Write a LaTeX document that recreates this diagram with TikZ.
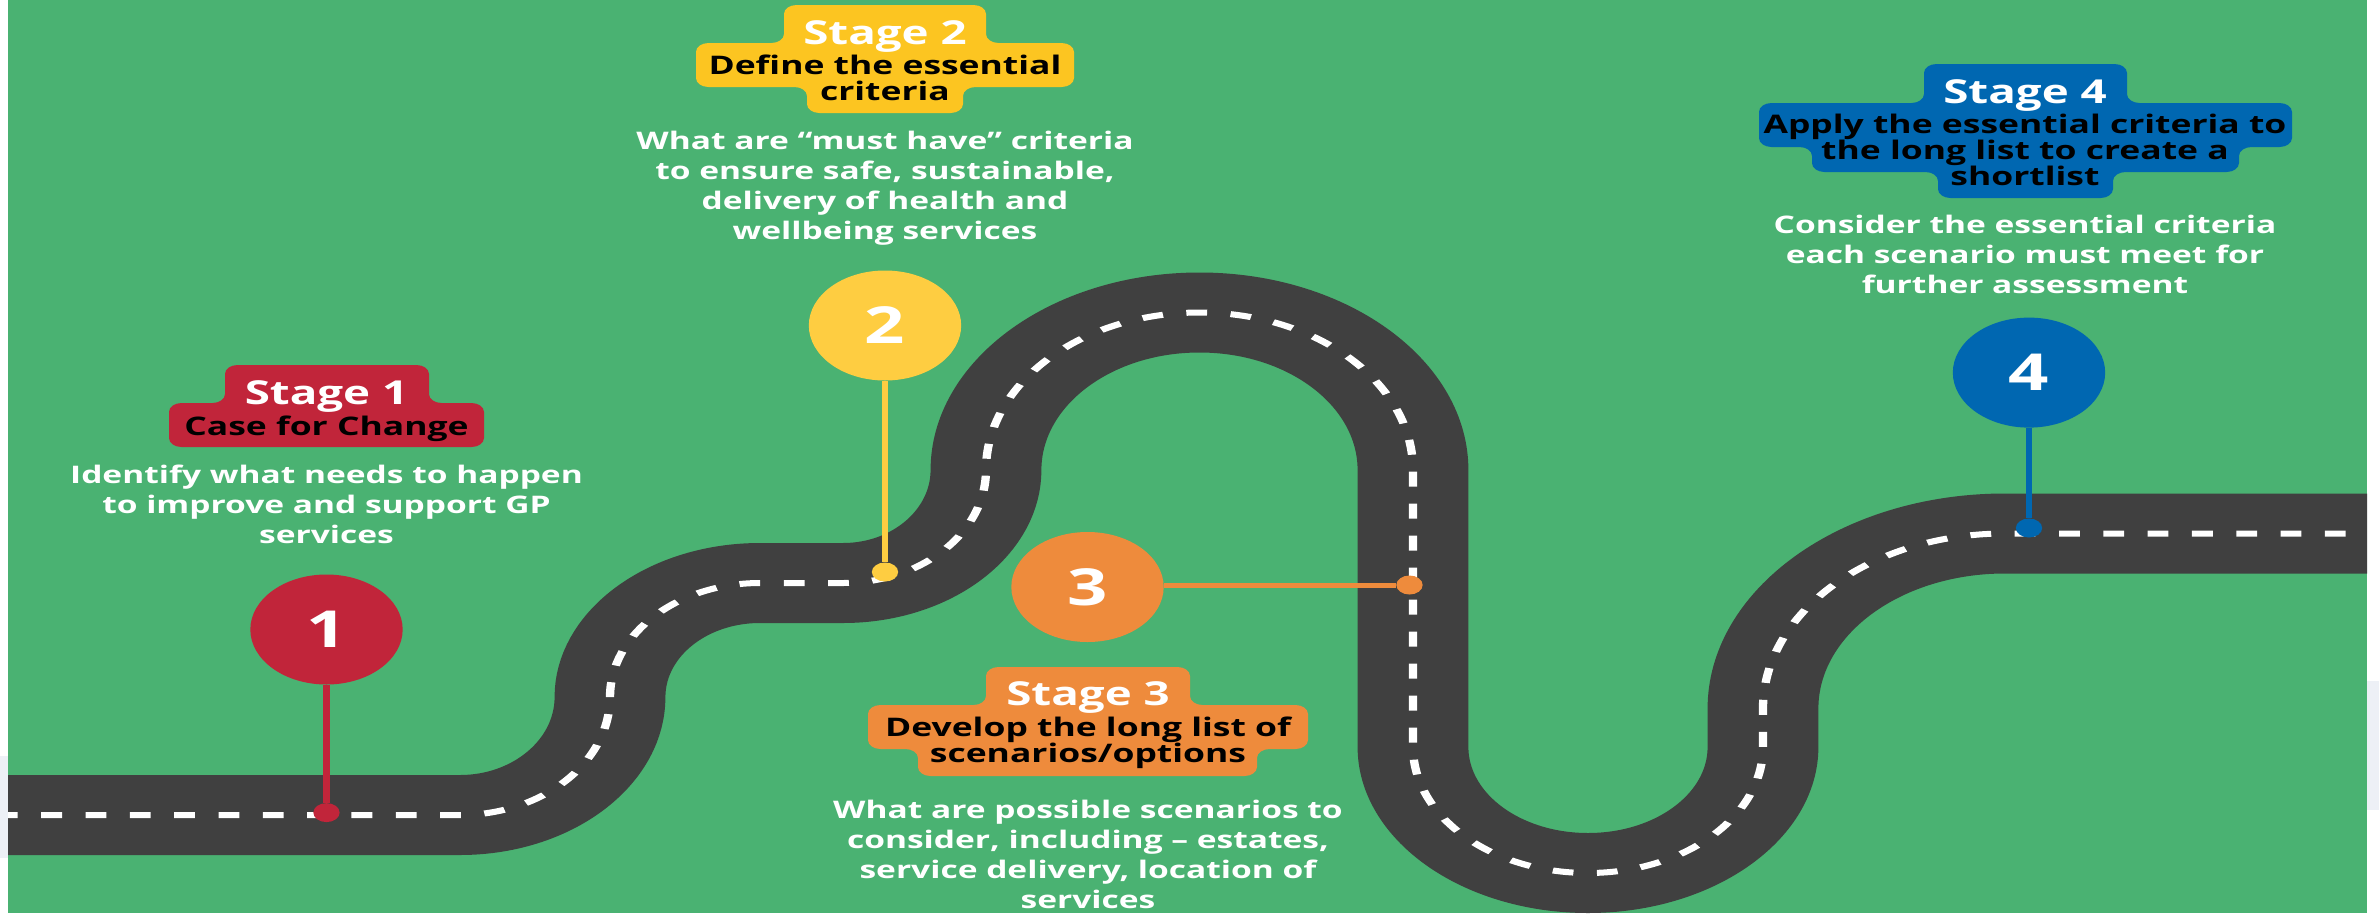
\documentclass[tikz,border=0pt]{standalone}
\usepackage{fontspec}
\setmainfont{Open Sans}
\definecolor{bggreen}{HTML}{4AB272}
\definecolor{roadgray}{HTML}{404040}
\definecolor{stred}{HTML}{C1253A}
\definecolor{styellow}{HTML}{FECD41}
\definecolor{styellowbox}{HTML}{FCC521}
\definecolor{storange}{HTML}{EE8B3C}
\definecolor{stblue}{HTML}{0067B1}
\definecolor{fadeband}{HTML}{EDF0F6}
\tikzset{
  roadline/.style={line width=80pt, draw=roadgray},
  laneline/.style={line width=6pt, draw=white, dash pattern=on 15pt off 17pt, dash phase=8pt},
  stemline/.style={line width=5pt},
  pindot/.style={circle, inner sep=0pt, minimum size=19pt},
  stagecircle/.style={circle, inner sep=0pt, minimum size=110pt, text=white, font=\fontsize{51}{51}\selectfont\bfseries},
  headtext/.style={inner sep=0pt, anchor=base, text=white, font=\fontsize{33}{36}\selectfont\bfseries},
  subtext/.style={inner sep=0pt, align=center, text=black, font=\fontsize{25.6}{26}\selectfont\bfseries},
  bodytext/.style={inner sep=0pt, anchor=north, align=center, text=white, font=\fontsize{24.2}{30}\selectfont\bfseries},
  stagebox/.style={rounded corners=9pt},
}
\newcommand\roadcourse{(8,-815) -- (460,-815)
 .. controls (542.8,-815) and (610,-762.2) .. (610,-697)
 .. controls (610,-634) and (677.2,-583) .. (760,-583)
 -- (843,-583)
 .. controls (922,-583) and (986,-532.4) .. (986,-470)
 .. controls (986,-383) and (1081.6,-312.5) .. (1199.5,-312.5)
 .. controls (1317.4,-312.5) and (1413,-383) .. (1413,-470)
 -- (1413,-747)
 .. controls (1413,-816.6) and (1491.3,-873) .. (1588,-873)
 .. controls (1684.7,-873) and (1763,-816.6) .. (1763,-747)
 -- (1763,-708.5)
 .. controls (1763,-611.8) and (1871.3,-533.5) .. (2005,-533.5)
 -- (2367,-533.5)}
\begin{document}
\begin{tikzpicture}[x=1pt,y=1pt]
\useasboundingbox (0,0) rectangle (2379,-913);
\fill[white] (0,0) rectangle (2379,-913);
\fill[fadeband] (0,-756) rectangle (8,-858);
\fill[fadeband] (2367,-681) rectangle (2379,-810);
\fill[bggreen] (8,0) rectangle (2367,-913);
\begin{scope}[transform canvas={xscale=1.385}, x=0.722022pt, y=1pt]
  % road
  \draw[roadline] \roadcourse;
  \draw[laneline] \roadcourse;

  % stage boxes
  \fill[stred, stagebox] (327,-365) -- (429,-365) -- (429,-403) -- (484,-403) -- (484,-447)
     -- (169,-447) -- (169,-403) -- (225,-403) -- (225,-365) -- cycle;
  \fill[styellowbox, stagebox] (885,-5) -- (986,-5) -- (986,-43) -- (1074,-43) -- (1074,-87)
     -- (963,-87) -- (963,-113) -- (807,-113) -- (807,-87) -- (696,-87) -- (696,-43)
     -- (784,-43) -- (784,-5) -- cycle;
  \fill[storange, stagebox] (1088,-667) -- (1190,-667) -- (1190,-705) -- (1308,-705) -- (1308,-749)
     -- (1257,-749) -- (1257,-776) -- (918,-776) -- (918,-749) -- (868,-749) -- (868,-705)
     -- (986,-705) -- (986,-667) -- cycle;
  \fill[stblue, stagebox] (2025,-64) -- (2127,-64) -- (2127,-103) -- (2292,-103) -- (2292,-147)
     -- (2239,-147) -- (2239,-172) -- (2113,-172) -- (2113,-198) -- (1938,-198) -- (1938,-172)
     -- (1812,-172) -- (1812,-147) -- (1759,-147) -- (1759,-103) -- (1924,-103) -- (1924,-64) -- cycle;

  % texts
  \node[headtext] (h1) at (326.5,-404) {Stage 1};
  \node[subtext, anchor=base] (s1) at (326.5,-435) {Case for Change};
  \node[bodytext] (b1) at (326.5,-464.5) {Identify what needs to happen\\to improve and support GP\\services};

  \node[headtext] (h2) at (885,-44) {Stage 2};
  \node[subtext, anchor=north] (s2) at (885,-55) {Define the essential\\criteria};
  \node[bodytext] (b2) at (885,-130.5) {What are “must have” criteria\\to ensure safe, sustainable,\\delivery of health and\\wellbeing services};

  \node[headtext] (h3) at (1088,-705) {Stage 3};
  \node[subtext, anchor=north] (s3) at (1088,-717) {Develop the long list of\\scenarios/options};
  \node[bodytext] (b3) at (1088,-799.5) {What are possible scenarios to\\consider, including – estates,\\service delivery, location of\\services};

  \node[headtext] (h4) at (2025,-103) {Stage 4};
  \node[subtext, anchor=north] (s4) at (2025,-114) {Apply the essential criteria to\\the long list to create a\\shortlist};
  \node[bodytext] (b4) at (2025,-214.5) {Consider the essential criteria\\each scenario must meet for\\further assessment};

  % circles and pins
  \node[stagecircle, fill=stred] (c1) at (326.5,-629.5) {1};
  \node[pindot, fill=stred] (d1) at (326.5,-812.6) {};
  \node[stagecircle, fill=styellow] (c2) at (885,-325.5) {2};
  \node[pindot, fill=styellow] (d2) at (885,-572) {};
  \node[stagecircle, fill=storange] (c3) at (1087.5,-587) {3};
  \node[pindot, fill=storange] (d3) at (1409.5,-585) {};
  \node[stagecircle, fill=stblue] (c4) at (2029,-372.6) {4};
  \node[pindot, fill=stblue] (d4) at (2029,-528) {};

  \draw[stemline, stred] (c1) -- (d1);
  \draw[stemline, styellow] (c2) -- (d2);
  \draw[stemline, storange] (d3 -| c3.east) -- (d3);
  \draw[stemline, stblue] (c4) -- (d4);
\end{scope}
\end{tikzpicture}
\end{document}
